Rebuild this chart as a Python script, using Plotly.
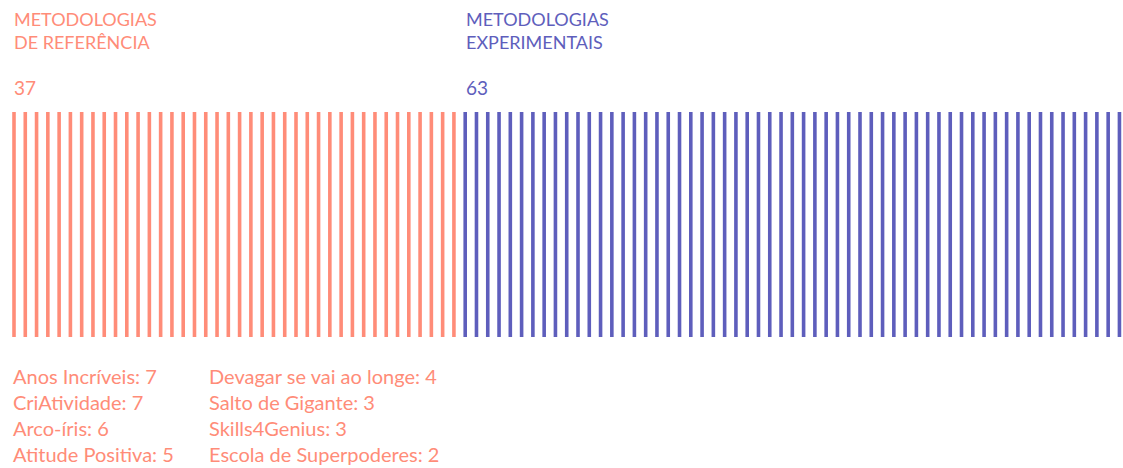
import plotly.graph_objects as go

# Data
group_names = ["METODOLOGIAS<br>DE REFERÊNCIA", "METODOLOGIAS<br>EXPERIMENTAIS"]
group_totals = [37, 63]
group_lines = [40, 60]  # number of strokes drawn per group
group_colors = ["#FF8C78", "#5E5EBC"]

ref_methods = ["Anos Incríveis", "CriAtividade", "Arco-íris", "Atitude Positiva",
               "Devagar se vai ao longe", "Salto de Gigante", "Skills4Genius",
               "Escola de Superpoderes"]
ref_counts = [7, 7, 6, 5, 4, 3, 3, 2]

W, H = 1123, 468
x0_px, pitch = 14.0, 11.28
y_top_px, y_bot_px = 112, 337

fig = go.Figure()
start = 0
for gi, n in enumerate(group_lines):
    xs, ys = [], []
    for i in range(start, start + n):
        xs += [i, i, None]
        ys += [0, 1, None]
    fig.add_trace(go.Scatter(x=xs, y=ys, mode="lines",
                             line=dict(color=group_colors[gi], width=3.6),
                             hoverinfo="skip", showlegend=False))
    start += n

font_family = "Lato, 'Open Sans', sans-serif"

def px_x(p):
    return p / W

def px_y(p):
    return 1 - p / H

annotations = []
group_x_px = [12, 464]
for gi in range(2):
    annotations.append(dict(xref="paper", yref="paper", x=px_x(group_x_px[gi]), y=px_y(31),
                            text=group_names[gi], showarrow=False, xanchor="left", yanchor="middle",
                            align="left", font=dict(family=font_family, size=18, color=group_colors[gi])))
    annotations.append(dict(xref="paper", yref="paper", x=px_x(group_x_px[gi]), y=px_y(87),
                            text=str(group_totals[gi]), showarrow=False, xanchor="left", yanchor="middle",
                            font=dict(family=font_family, size=19, color=group_colors[gi])))

col_x_px = [11, 207]
row_y_px = [376, 402, 428, 454]
for k, (name, cnt) in enumerate(zip(ref_methods, ref_counts)):
    col, row = divmod(k, 4)
    annotations.append(dict(xref="paper", yref="paper", x=px_x(col_x_px[col]), y=px_y(row_y_px[row]),
                            text=f"{name}: {cnt}", showarrow=False, xanchor="left", yanchor="middle",
                            font=dict(family=font_family, size=20, color=group_colors[0])))

x_range = [-x0_px / pitch, (W - x0_px) / pitch]
per = 1.0 / (y_bot_px - y_top_px)
y_range = [-(H - y_bot_px) * per, 1 + y_top_px * per]

fig.update_layout(
    width=W, height=H,
    margin=dict(l=0, r=0, t=0, b=0),
    paper_bgcolor="white", plot_bgcolor="white",
    xaxis=dict(range=x_range, visible=False, fixedrange=True),
    yaxis=dict(range=y_range, visible=False, fixedrange=True),
    annotations=annotations,
)

fig.write_html("out.html", config={"displayModeBar": False},
               post_script="document.body.style.margin='0';document.body.style.overflow='hidden';")
